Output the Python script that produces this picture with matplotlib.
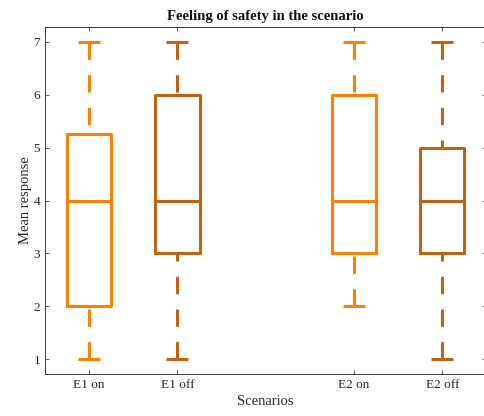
import matplotlib
matplotlib.use('Agg')
import matplotlib.pyplot as plt

plt.rcParams['font.family'] = ['Liberation Serif', 'DejaVu Serif']
plt.rcParams['lines.scale_dashes'] = False

# Box statistics per scenario (Likert 1-7)
scenarios = ['E1 on', 'E1 off', 'E2 on', 'E2 off']
positions = [1, 2, 4, 5]
whisker_low = [1, 1, 2, 1]
q1 = [2, 3, 3, 3]
median = [4, 4, 4, 4]
q3 = [5.25, 6, 6, 5]
whisker_high = [7, 7, 7, 7]
colors = ['#FF8000', '#C0620F', '#FF8000', '#C0620F']

stats = []
for i, name in enumerate(scenarios):
    stats.append({'label': name, 'whislo': whisker_low[i], 'q1': q1[i],
                  'med': median[i], 'q3': q3[i], 'whishi': whisker_high[i],
                  'fliers': []})

fig = plt.figure(figsize=(4.84, 4.16), dpi=100)
ax = fig.add_axes([0.093, 0.101, 0.912, 0.834])

bp = ax.bxp(stats, positions=positions, widths=0.5, showfliers=False,
            capwidths=0.25)

lw = 2.2
for i, c in enumerate(colors):
    bp['boxes'][i].set(color=c, linewidth=lw)
    bp['medians'][i].set(color=c, linewidth=lw)
    for j in (2 * i, 2 * i + 1):
        bp['caps'][j].set(color=c, linewidth=lw, solid_capstyle='butt')
        w = bp['whiskers'][j]
        # draw each whisker from the cap towards the box so the dash starts at the cap
        x, y = w.get_data()
        w.set_data(x[::-1], y[::-1])
        w.set(color=c, linewidth=lw, linestyle=(0, (12.5, 11)),
              dash_capstyle='butt')

ax.set_xlim(0.5, 5.5)
ax.set_ylim(0.72, 7.28)
ax.set_yticks([1, 2, 3, 4, 5, 6, 7])
ax.set_xticks(positions)
ax.set_xticklabels(scenarios)

ax.tick_params(direction='in', top=True, right=True, length=2.8,
               width=0.6, colors='#3a3a3a', labelsize=9.5, labelcolor='#262626')
for s in ax.spines.values():
    s.set_color('#3a3a3a')
    s.set_linewidth(0.7)

ax.set_title('Feeling of safety in the scenario', fontsize=10.5,
             fontweight='bold', color='#111111', pad=5)
ax.set_xlabel('Scenarios', fontsize=10.5, color='#262626', labelpad=3)
ax.set_ylabel('Mean response', fontsize=10.5, color='#262626', labelpad=1)

fig.savefig('out.png', dpi=100)
